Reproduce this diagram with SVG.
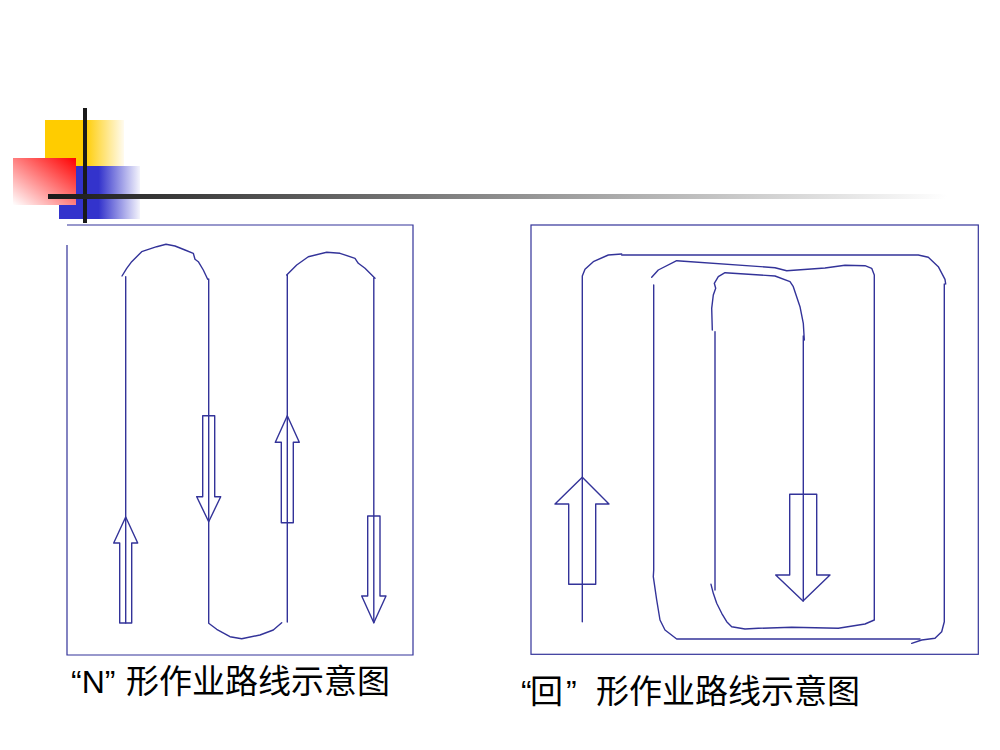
<svg xmlns="http://www.w3.org/2000/svg" width="1000" height="750" viewBox="0 0 1000 750">
<defs>
<linearGradient id="gY" x1="0" y1="0" x2="1" y2="0"><stop offset="0" stop-color="#FFCC00"/><stop offset="0.5" stop-color="#FFCC00"/><stop offset="1" stop-color="#FFFBEF"/></linearGradient>
<linearGradient id="gB" x1="0" y1="0" x2="1" y2="0"><stop offset="0" stop-color="#3333CC"/><stop offset="0.49" stop-color="#3333CC"/><stop offset="1" stop-color="#F4F4FC"/></linearGradient>
<linearGradient id="gR" x1="1" y1="0" x2="0" y2="1"><stop offset="0" stop-color="#FF0000"/><stop offset="1" stop-color="#FFFFFF"/></linearGradient>
<linearGradient id="gL" gradientUnits="userSpaceOnUse" x1="48" y1="0" x2="947" y2="0"><stop offset="0" stop-color="#1A1A1A"/><stop offset="1" stop-color="#FFFFFF"/></linearGradient>
<style>
.s{fill:none;stroke:#333399;stroke-width:1.4;stroke-linejoin:round;stroke-linecap:round}
.b{fill:none;stroke:#333399;stroke-width:1.2}
.t{font-family:"Liberation Sans","Noto Sans CJK SC",sans-serif;font-size:32px;fill:#000}
.c{font-family:"Noto Sans CJK SC",sans-serif;font-size:33px;fill:#000}
</style>
</defs>
<rect width="1000" height="750" fill="#FFFFFF"/>
<g id="decoration">
<rect x="45" y="120" width="79" height="46" fill="url(#gY)"/>
<rect x="59" y="166" width="81" height="53" fill="url(#gB)"/>
<rect x="13" y="158" width="63" height="47" fill="url(#gR)"/>
<rect x="83" y="108" width="4" height="115" fill="#1A1A1A"/>
<rect x="48" y="194" width="899" height="5" fill="url(#gL)"/>
</g>
<g id="n-pattern">
<polyline class="b" points="67,245 67,655 413,655 413,225 67,225"/>
<g class="s">
<path d="M125.7,276.7 V623"/>
<path d="M122,276 L126.7,268.3 L131.7,261.7 L141.7,251.7 L156.7,246.7 L166,244.3 L175,246 L185,250 L193.3,253.3 L195,259.3 L198.3,261.7 L203.3,270 L207.7,279.3"/>
<path d="M208.7,279 V623.3 L216.7,629.3 L230,636.7 L241.7,638.7 L260,635 L273.3,630 L281.7,622.7"/>
<path d="M287.3,622 V275"/>
<path d="M286.7,275 L296.7,265 L308.3,256.7 L326.7,252.3 L340,253.3 L355,258.3 L358.3,263.3 L365,268.3 L375,278.3"/>
<path d="M373.8,278 V622.7"/>
</g>
<g id="n-arrows" class="s">
<polygon points="119.7,623 131.7,623 131.7,543 137.7,543 125.7,517 113.7,543 119.7,543"/>
<polygon points="202.7,415.7 214.7,415.7 214.7,496.7 220.7,496.7 208.7,521.7 196.7,496.7 202.7,496.7"/>
<polygon points="281.3,522.7 293.3,522.7 293.3,442.3 299.3,442.3 287.3,415.7 275.3,442.3 281.3,442.3"/>
<polygon points="367.7,516 380,516 380,596 386,596 373.8,622.7 361.7,596 367.7,596"/>
</g>
<text class="t" x="71" y="693">“N”<tspan class="c" x="126">形作业路线示意图</tspan></text>
</g>
<g id="hui-pattern">
<rect class="b" x="531" y="225" width="447.3" height="429.3"/>
<g class="s">
<path d="M582.3,621.7 V276 L585,269.3 L593.3,261.7 L608.3,255 L621.7,254"/>
<path d="M621.7,255 H918.3 L928.3,257.3 L938.3,266.7 L945,279.3 L945.7,284"/>
<path d="M944.3,284 V621.7 L941.7,631.7 L935,638.3 L921.7,640 L911.7,643.3"/>
<path d="M920,639 H676.7 L665,630 L660,620 L656.7,600 L653.3,576.7 L653.7,570 V285"/>
<path d="M651.7,277.3 L658.3,270 L676.7,260.7 L775,267.7 L786.7,270.7 L825,268 L845,265.3 L865,265.7 L871.7,268.3 L874.3,275 L874.3,620 L865,624 L838.3,628.3 L791.7,627.3 L758.3,628.3 L745,629 L731.7,626.7 L726.7,621.7 L721.7,613.3 L716.7,603.3 L713.3,593.3 L711,584.3"/>
<path d="M715,590 V331.7"/>
<path d="M712.3,330 L711.7,308.3 L713.3,295 L715.7,288.3 L714.3,283.3 L718.3,276.7 L725,272.7 L775,276 L790,281.7 L793.3,286.7 L800,306.7 L803.3,323.3 L804.3,340"/>
<path d="M803.3,336 V601"/>
</g>
<g id="hui-arrows" class="s">
<polygon points="568.7,584.3 595.7,584.3 595.7,504 609,504 582.3,477.3 555,504 568.7,504"/>
<polygon points="789.7,494.3 816.7,494.3 816.7,575 830,575 803,601 775.7,575 789.7,575"/>
</g>
<text class="t" x="521" y="703">“<tspan class="c" x="530">回</tspan><tspan x="566">”</tspan><tspan class="c" x="596">形作业路线示意图</tspan></text>
</g>
</svg>
